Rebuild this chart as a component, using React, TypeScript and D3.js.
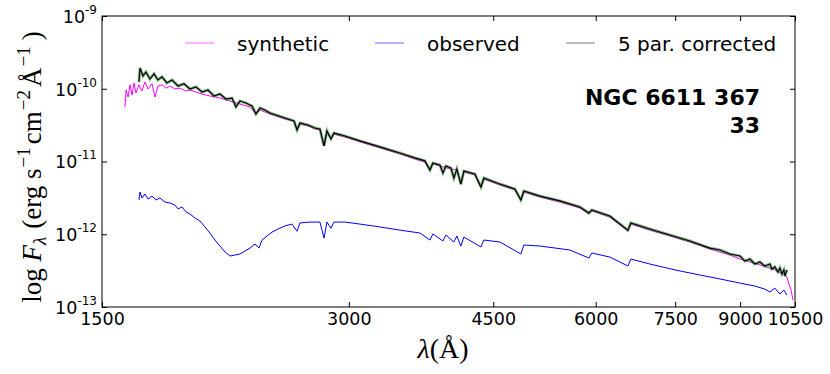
import React, { useEffect, useRef } from 'react'
import * as d3 from 'd3'

const W = 830, H = 374
const margin = { top: 16, right: 35, bottom: 67, left: 102 }

const xTicks = [1500, 3000, 4500, 6000, 7500, 9000, 10500]
const yTicks = [1e-13, 1e-12, 1e-11, 1e-10, 1e-9]
const yExponents = [-13, -12, -11, -10, -9]

const seriesNames = ["synthetic", "observed", "5 par. corrected"]
const starLines = ["NGC 6611 367", "33"]

// synthetic spectrum (wavelength in Å, flux in erg s-1 cm-2 Å-1)
const synWave = [1600, 1605, 1614, 1623, 1632, 1641, 1650, 1664, 1678, 1692, 1707, 1726, 1741, 1755, 1775, 1795, 1816, 1841, 1867, 1899, 1920, 1953, 1986, 2031, 2089, 2149, 2210, 2273, 2311, 2338, 2404, 2445, 2507, 2572, 2594, 2615, 2675, 2728, 2766, 2798, 2821, 2853, 2877, 2967, 3095, 3273, 3462, 3611, 3714, 3767, 3798, 3874, 3995, 4063, 4109, 4144, 4274, 4347, 4383, 4585, 4782, 4863, 4904, 5130, 5426, 5739, 5886, 5936, 6243, 6567, 6623, 6985, 7389, 7818, 8269, 8747, 9000, 9514, 9924, 10206, 10264, 10322, 10380, 10438]
const synFlux = [5.62e-11, 9.62e-11, 7.70e-11, 1.13e-10, 8.20e-11, 1.20e-10, 8.73e-11, 1.13e-10, 9.32e-11, 1.24e-10, 9.93e-11, 1.17e-10, 7.70e-11, 1.09e-10, 1.13e-10, 1.02e-10, 1.09e-10, 9.93e-11, 1.02e-10, 9.32e-11, 9.62e-11, 9.03e-11, 8.46e-11, 7.95e-11, 7.45e-11, 6.78e-11, 6.17e-11, 5.60e-11, 4.50e-11, 5.10e-11, 4.50e-11, 4.22e-11, 3.84e-11, 3.60e-11, 2.71e-11, 3.28e-11, 3.08e-11, 2.80e-11, 2.71e-11, 1.64e-11, 2.54e-11, 2.04e-11, 2.38e-11, 2.17e-11, 1.86e-11, 1.54e-11, 1.27e-11, 1.08e-11, 9.83e-12, 7.64e-12, 9.23e-12, 8.67e-12, 7.88e-12, 7.64e-12, 4.90e-12, 7.16e-12, 6.52e-12, 4.46e-12, 5.75e-12, 4.75e-12, 4.06e-12, 2.96e-12, 3.80e-12, 3.25e-12, 2.77e-12, 2.30e-12, 1.90e-12, 2.09e-12, 1.72e-12, 1.10e-12, 1.38e-12, 1.14e-12, 9.46e-13, 7.82e-13, 6.26e-13, 5.18e-13, 4.56e-13, 3.78e-13, 3.23e-13, 2.75e-13, 2.58e-13, 2.06e-13, 1.76e-13, 1.25e-13]

// observed spectrum
const obsWave = [1664, 1669, 1678, 1692, 1707, 1726, 1746, 1765, 1790, 1816, 1841, 1857, 1878, 1899, 1920, 1948, 1975, 2003, 2031, 2060, 2089, 2119, 2149, 2179, 2210, 2241, 2273, 2305, 2331, 2351, 2384, 2418, 2459, 2507, 2557, 2594, 2615, 2690, 2766, 2798, 2821, 2853, 2877, 2967, 3095, 3273, 3462, 3662, 3767, 3798, 3907, 3940, 4029, 4063, 4109, 4144, 4347, 4383, 4585, 4863, 4904, 5130, 5580, 5886, 5936, 6243, 6567, 6623, 6985, 7500, 8040, 8505, 9000, 9382, 9649, 9785, 9924, 10064, 10178, 10264]
const obsFlux = [2.96e-12, 3.81e-12, 3.15e-12, 3.57e-12, 3.05e-12, 3.35e-12, 2.96e-12, 3.15e-12, 2.78e-12, 2.68e-12, 2.52e-12, 2.23e-12, 2.37e-12, 2.03e-12, 1.90e-12, 1.67e-12, 1.52e-12, 1.26e-12, 1.04e-12, 8.33e-13, 6.89e-13, 5.70e-13, 5.02e-13, 5.18e-13, 5.35e-13, 5.88e-13, 6.46e-13, 7.34e-13, 6.46e-13, 8.33e-13, 9.46e-13, 1.07e-12, 1.18e-12, 1.30e-12, 1.38e-12, 1.10e-12, 1.43e-12, 1.47e-12, 1.47e-12, 8.87e-13, 1.47e-12, 1.21e-12, 1.47e-12, 1.47e-12, 1.38e-12, 1.26e-12, 1.14e-12, 1.04e-12, 8.33e-13, 1.01e-12, 8.07e-13, 9.76e-13, 7.82e-13, 9.46e-13, 6.89e-13, 9.16e-13, 6.68e-13, 8.33e-13, 7.82e-13, 5.35e-13, 7.11e-13, 6.89e-13, 6.07e-13, 4.71e-13, 5.52e-13, 4.86e-13, 3.66e-13, 4.56e-13, 3.90e-13, 3.23e-13, 2.75e-13, 2.43e-13, 2.13e-13, 1.94e-13, 1.76e-13, 1.61e-13, 1.82e-13, 1.51e-13, 1.71e-13, 1.46e-13]

// 5 parameter corrected spectrum
const corWave = [1664, 1669, 1683, 1697, 1716, 1736, 1755, 1775, 1800, 1826, 1857, 1888, 1920, 1953, 1986, 2020, 2054, 2089, 2125, 2161, 2185, 2210, 2247, 2286, 2311, 2338, 2370, 2404, 2445, 2486, 2529, 2572, 2594, 2615, 2675, 2728, 2766, 2798, 2821, 2853, 2877, 2967, 3095, 3273, 3462, 3611, 3714, 3767, 3798, 3874, 3907, 3940, 3995, 4029, 4063, 4109, 4144, 4274, 4347, 4383, 4585, 4782, 4863, 4904, 5130, 5426, 5739, 5886, 5936, 6243, 6567, 6623, 6985, 7389, 7818, 8269, 8505, 8747, 9000, 9122, 9251, 9382, 9514, 9649, 9785, 9840, 9924, 10008, 10064, 10121, 10178, 10206, 10264]
const corFlux = [1.24e-10, 1.93e-10, 1.50e-10, 1.70e-10, 1.36e-10, 1.60e-10, 1.32e-10, 1.46e-10, 1.20e-10, 1.32e-10, 1.09e-10, 1.17e-10, 9.93e-11, 1.06e-10, 9.03e-11, 9.62e-11, 7.95e-11, 8.46e-11, 7.22e-11, 7.45e-11, 5.62e-11, 6.78e-11, 6.37e-11, 5.79e-11, 4.50e-11, 5.43e-11, 5.10e-11, 4.64e-11, 4.36e-11, 4.09e-11, 3.84e-11, 3.60e-11, 2.71e-11, 3.39e-11, 3.18e-11, 2.89e-11, 2.80e-11, 1.64e-11, 2.63e-11, 2.04e-11, 2.46e-11, 2.24e-11, 1.92e-11, 1.59e-11, 1.31e-11, 1.12e-11, 1.02e-11, 7.64e-12, 9.53e-12, 8.95e-12, 6.94e-12, 8.67e-12, 8.14e-12, 5.93e-12, 7.88e-12, 4.90e-12, 7.40e-12, 6.73e-12, 4.46e-12, 5.93e-12, 4.90e-12, 4.19e-12, 2.96e-12, 3.93e-12, 3.35e-12, 2.87e-12, 2.37e-12, 1.96e-12, 2.16e-12, 1.78e-12, 1.14e-12, 1.43e-12, 1.18e-12, 9.76e-13, 8.07e-13, 6.46e-13, 6.07e-13, 5.35e-13, 5.02e-13, 4.28e-13, 4.56e-13, 3.90e-13, 4.15e-13, 3.66e-13, 3.90e-13, 3.33e-13, 3.55e-13, 3.03e-13, 3.44e-13, 2.84e-13, 3.23e-13, 2.66e-13, 3.23e-13]

const sans = "'DejaVu Sans', sans-serif"
const serif = "'Liberation Serif', 'DejaVu Serif', serif"

export default function App() {
    const ref = useRef<SVGSVGElement>(null)

    useEffect(() => {
        const svg = d3.select(ref.current)
        svg.selectAll("*").remove()

        const x = d3.scaleLog().domain([1500, 10500]).range([margin.left, W - margin.right])
        const y = d3.scaleLog().domain([1e-13, 1e-9]).range([H - margin.bottom, margin.top])

        const zip = (w: number[], f: number[]) => w.map((d, i) => [d, f[i]] as [number, number])
        const line = d3.line<[number, number]>().x(d => x(d[0])).y(d => y(d[1]))

        const plot = svg.append("g")
        plot.append("path").attr("d", line(zip(synWave, synFlux)))
            .attr("fill", "none").attr("stroke", "#ff00ff").attr("stroke-width", 1)
        plot.append("path").attr("d", line(zip(obsWave, obsFlux)))
            .attr("fill", "none").attr("stroke", "#0000ff").attr("stroke-width", 1)
        plot.append("path").attr("d", line(zip(corWave, corFlux)))
            .attr("fill", "none").attr("stroke", "#2e8b2e").attr("stroke-opacity", 0.55).attr("stroke-width", 3)
        plot.append("path").attr("d", line(zip(corWave, corFlux)))
            .attr("fill", "none").attr("stroke", "#000").attr("stroke-width", 1.2)

        // axes with inward ticks on all sides
        const bottom = svg.append("g").attr("transform", `translate(0,${H - margin.bottom})`)
            .call(d3.axisBottom(x).tickValues(xTicks).tickSizeInner(-5).tickSizeOuter(0).tickPadding(6)
                .tickFormat(d => String(d)))
        bottom.selectAll("text").attr("font-family", sans).attr("font-size", 17.5).attr("fill", "#000")
        svg.append("g").attr("transform", `translate(0,${margin.top})`)
            .call(d3.axisTop(x).tickValues(xTicks).tickSizeInner(-5).tickSizeOuter(0).tickFormat(() => ""))
        const left = svg.append("g").attr("transform", `translate(${margin.left},0)`)
            .call(d3.axisLeft(y).tickValues(yTicks).tickSizeInner(-5).tickSizeOuter(0).tickPadding(5)
                .tickFormat(() => ""))
        left.selectAll<SVGTextElement, number>(".tick text").each(function (d) {
            const t = d3.select(this).attr("font-family", sans).attr("font-size", 17.5).attr("fill", "#000")
                .attr("dy", "0.36em")
            t.append("tspan").text("10")
            t.append("tspan").attr("font-size", 12).attr("dy", "-0.75em").text(String(yExponents[yTicks.indexOf(d)]))
        })
        svg.append("g").attr("transform", `translate(${W - margin.right},0)`)
            .call(d3.axisRight(y).tickValues(yTicks).tickSizeInner(-5).tickSizeOuter(0).tickFormat(() => ""))
        svg.selectAll(".domain").remove()
        svg.selectAll(".tick line").attr("stroke", "#000")

        svg.append("rect")
            .attr("x", margin.left).attr("y", margin.top)
            .attr("width", W - margin.left - margin.right).attr("height", H - margin.top - margin.bottom)
            .attr("fill", "none").attr("stroke", "#000").attr("stroke-width", 1)

        // legend
        const legendColors = ["rgba(255,0,255,0.4)", "rgba(0,0,255,0.4)", "rgba(0,0,0,0.35)"]
        const legendX = [185, 375, 566]
        seriesNames.forEach((name, i) => {
            svg.append("line").attr("x1", legendX[i]).attr("x2", legendX[i] + 29)
                .attr("y1", 43).attr("y2", 43).attr("stroke", legendColors[i]).attr("stroke-width", 1.5)
            svg.append("text").attr("x", legendX[i] + 52).attr("y", 51)
                .attr("font-family", sans).attr("font-size", 20).text(name)
        })

        // star label
        starLines.forEach((s, i) => {
            svg.append("text").attr("x", 760).attr("y", 105 + i * 28).attr("text-anchor", "end")
                .attr("font-family", sans).attr("font-weight", "bold").attr("font-size", 22).text(s)
        })

        // x label
        const xl = svg.append("text").attr("x", 443).attr("y", 358).attr("text-anchor", "middle")
            .attr("font-family", serif).attr("font-size", 28)
        xl.append("tspan").attr("font-style", "italic").text("λ")
        xl.append("tspan").text("(Å)")

        // y label
        const yl = svg.append("text").attr("transform", "translate(41,167) rotate(-90)")
            .attr("text-anchor", "middle").attr("font-family", serif).attr("font-size", 27)
        yl.append("tspan").text("log ")
        yl.append("tspan").attr("font-style", "italic").text("F")
        yl.append("tspan").attr("font-size", 19).attr("font-style", "italic").attr("dy", 5).text("λ")
        yl.append("tspan").attr("dy", -5).attr("dx", 8).text("(erg s")
        yl.append("tspan").attr("font-size", 19).attr("dy", -11).attr("dx", 1).text("−1")
        yl.append("tspan").attr("dy", 11).attr("dx", 3).text("cm")
        yl.append("tspan").attr("font-size", 19).attr("dy", -11).attr("dx", 1).text("−2")
        yl.append("tspan").attr("dy", 11).attr("dx", 3).text("Å")
        yl.append("tspan").attr("font-size", 19).attr("dy", -11).attr("dx", 1).text("−1")
        yl.append("tspan").attr("dy", 11).attr("dx", 6).text(")")
    }, [])

    return (
        <svg ref={ref} width={W} height={H}
            style={{ position: "absolute", left: 0, top: 0, background: "#fff" }} />
    )
}
